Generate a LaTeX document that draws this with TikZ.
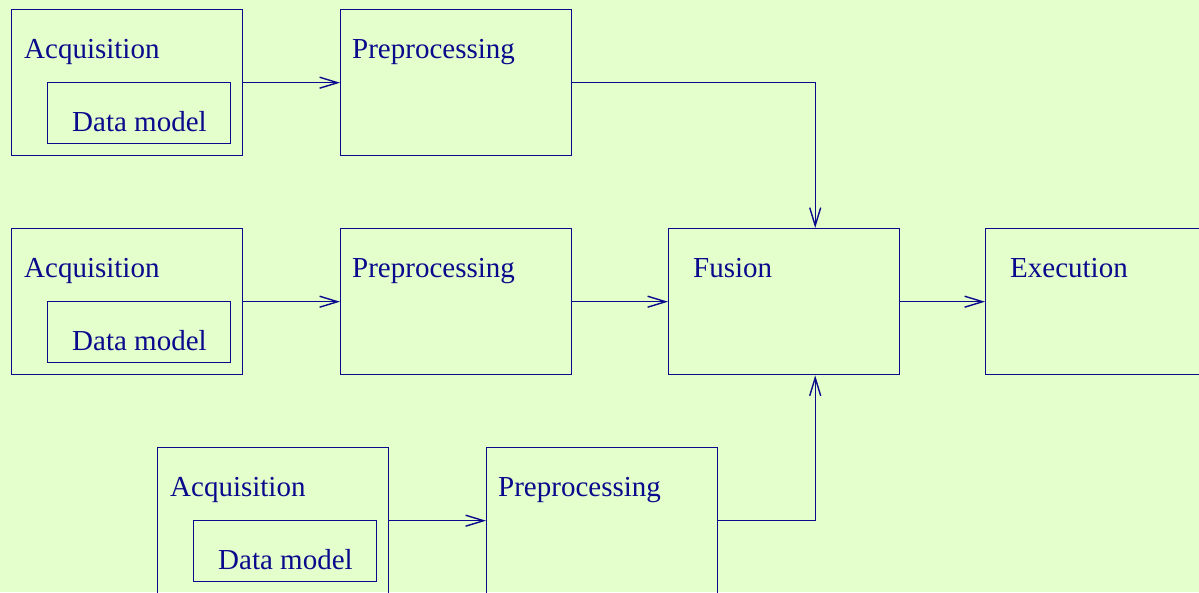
\documentclass[tikz,border=0pt]{standalone}
\usepackage{fontspec}
\setmainfont{Liberation Serif}
\usetikzlibrary{arrows.meta}
\definecolor{bg}{RGB}{229,255,204}
\definecolor{ink}{RGB}{10,10,140}
\begin{document}
\begin{tikzpicture}[x=1pt,y=-1pt,
  box/.style={draw=ink,line width=1.4pt,minimum width=231pt,minimum height=146pt,anchor=north west,inner sep=0pt},
  inbox/.style={draw=ink,line width=1.4pt,minimum width=183pt,minimum height=61pt,anchor=north west,inner sep=0pt},
  lbl/.style={anchor=base west,inner sep=0pt,text=ink,font=\fontsize{29}{34}\selectfont},
  conn/.style={draw=ink,line width=1.4pt,-{Straight Barb[length=18pt,width=11pt,line width=1.4pt]}}]
\fill[bg] (0,0) rectangle (1199,592);
\useasboundingbox (0,0) rectangle (1199,592);
\begin{scope}
\clip (0,0) rectangle (1199,592);
% row 1
\node[box] (acq1) at (11,9) {};
\node[inbox] (dm1) at (47,82) {};
\node[box] (pre1) at (340,9) {};
% row 2
\node[box] (acq2) at (11,228) {};
\node[inbox] (dm2) at (47,301) {};
\node[box] (pre2) at (340,228) {};
\node[box] (fus) at (668,228) {};
\node[box] (exe) at (985,228) {};
% row 3
\node[box] (acq3) at (157,447) {};
\node[inbox] (dm3) at (193,520) {};
\node[box] (pre3) at (486,447) {};
% labels
\node[lbl] (tacq1) at (24,58) {Acquisition};
\node[lbl] (tdm1) at (72,131) {Data model};
\node[lbl] (tpre1) at (352,58) {Preprocessing};
\node[lbl] (tacq2) at (24,277) {Acquisition};
\node[lbl] (tdm2) at (72,350) {Data model};
\node[lbl] (tpre2) at (352,277) {Preprocessing};
\node[lbl] (tfus) at (693,277) {Fusion};
\node[lbl] (texe) at (1010,277) {Execution};
\node[lbl] (tacq3) at (170,496) {Acquisition};
\node[lbl] (tdm3) at (218,569) {Data model};
\node[lbl] (tpre3) at (498,496) {Preprocessing};
% connectors
\coordinate (fin) at ([xshift=31pt]fus.north);
\coordinate (fin2) at ([xshift=31pt]fus.south);
\draw[conn] (acq1.east) -- (pre1.west);
\draw[conn] (acq2.east) -- (pre2.west);
\draw[conn] (acq3.east) -- (pre3.west);
\draw[conn] (pre1.east) -| (fin);
\draw[conn] (pre2.east) -- (fus.west);
\draw[conn] (pre3.east) -| (fin2);
\draw[conn] (fus.east) -- (exe.west);
\end{scope}
\end{tikzpicture}
\end{document}
